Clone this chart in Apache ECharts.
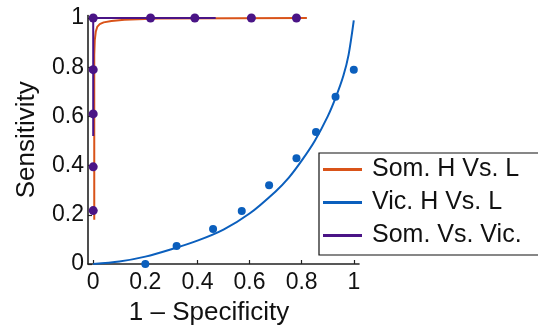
<!DOCTYPE html>
<html>
<head>
<meta charset="utf-8">
<script src="https://cdn.jsdelivr.net/npm/echarts@6/dist/echarts.min.js"></script>
<style>
  html, body { margin: 0; padding: 0; background: #fff; }
  #chart { width: 538px; height: 333px; }
</style>
</head>
<body>
<div id="chart"></div>
<script>
// tick labels
var xTicks = [0, 0.2, 0.4, 0.6, 0.8, 1]
var yTicks = [0, 0.2, 0.4, 0.6, 0.8, 1]

// Som. H Vs. L fitted curve
var somX = [0.004, 0.004, 0.006, 0.01, 0.016, 0.025, 0.04, 0.07, 0.12, 0.25, 0.82]
var somY = [0.18, 0.85, 0.91, 0.945, 0.965, 0.975, 0.982, 0.988, 0.993, 0.998, 1]

// Vic. H Vs. L fitted curve and points
var vicCurveX = [0, 0.1, 0.2, 0.3, 0.4, 0.5, 0.6, 0.7, 0.75, 0.8, 0.85, 0.9, 0.93, 0.96, 0.98, 1]
var vicCurveY = [0, 0.01, 0.03, 0.06, 0.095, 0.14, 0.205, 0.295, 0.35, 0.42, 0.5, 0.6, 0.675, 0.765, 0.85, 0.99]
var vicPtX = [0.2, 0.32, 0.46, 0.57, 0.675, 0.78, 0.855, 0.93, 1]
var vicPtY = [0, 0.073, 0.142, 0.215, 0.32, 0.43, 0.537, 0.68, 0.79]

// Som. Vs. Vic. fitted curve and points
var svX = [0, 0, 0.47]
var svY = [0.52, 1, 1]
var svPtX = [0, 0, 0, 0, 0, 0.22, 0.39, 0.607, 0.78]
var svPtY = [1, 0.79, 0.61, 0.395, 0.217, 1, 1, 1, 1]

var names = ['Som. H Vs. L', 'Vic. H Vs. L', 'Som. Vs. Vic.']
var colors = ['#d95319', '#0b5fbd', '#4a1486']

function pairs (xs, ys) {
  return xs.map(function (x, i) { return [x, ys[i]] })
}

var myChart = echarts.init(document.getElementById('chart'))

var axisText = { color: '#111', fontFamily: 'Liberation Sans', fontSize: 23 }
var axisLine = { show: true, onZero: false, lineStyle: { color: '#222', width: 1.6 } }

var option = {
  animation: false,
  backgroundColor: '#fff',
  grid: { left: 88, right: 179, top: 15.5, bottom: 69 },
  legend: {
    orient: 'vertical',
    left: 319,
    top: 153,
    padding: [4, 19, 7, 4],
    itemGap: 8,
    itemWidth: 39,
    itemHeight: 3,
    borderColor: '#111',
    borderWidth: 1.2,
    borderRadius: 0,
    textStyle: { color: '#111', fontFamily: 'Liberation Sans', fontSize: 25, lineHeight: 25, padding: [0, 0, 0, 5] },
    data: names.map(function (n) { return { name: n, icon: 'rect' } })
  },
  xAxis: {
    type: 'value',
    min: -0.02,
    max: 1.02,
    name: '1 \u2013 Specificity',
    nameLocation: 'middle',
    nameGap: 36,
    nameTextStyle: { color: '#111', fontFamily: 'Liberation Sans', fontSize: 26, padding: [0, 29, 0, 0] },
    splitLine: { show: false },
    axisLine: axisLine,
    axisTick: { show: true, inside: true, length: 4, customValues: xTicks, lineStyle: { color: '#222', width: 1.2 } },
    axisLabel: Object.assign({ margin: 7, customValues: xTicks, formatter: function (v) { return String(v) } }, axisText)
  },
  yAxis: {
    type: 'value',
    min: 0,
    max: 1.01,
    name: 'Sensitivity',
    nameLocation: 'middle',
    nameGap: 48,
    nameTextStyle: { color: '#111', fontFamily: 'Liberation Sans', fontSize: 26 },
    splitLine: { show: false },
    axisLine: axisLine,
    axisTick: { show: true, inside: true, length: 4, customValues: yTicks, lineStyle: { color: '#222', width: 1.2 } },
    axisLabel: Object.assign({ margin: 4, customValues: yTicks, formatter: function (v) { return String(v) } }, axisText)
  },
  series: [
    {
      name: names[0],
      type: 'line',
      data: pairs(somX, somY),
      showSymbol: false,
      lineStyle: { color: colors[0], width: 2 },
      itemStyle: { color: colors[0] },
      z: 2
    },
    {
      name: names[1],
      type: 'line',
      data: pairs(vicCurveX, vicCurveY),
      smooth: 0.3,
      showSymbol: false,
      lineStyle: { color: colors[1], width: 2 },
      itemStyle: { color: colors[1] },
      z: 3
    },
    {
      name: names[1],
      type: 'scatter',
      data: pairs(vicPtX, vicPtY),
      symbolSize: 8,
      itemStyle: { color: colors[1], opacity: 1 },
      z: 4
    },
    {
      name: names[2],
      type: 'line',
      data: pairs(svX, svY),
      showSymbol: false,
      lineStyle: { color: colors[2], width: 2 },
      itemStyle: { color: colors[2] },
      z: 5
    },
    {
      name: names[2],
      type: 'scatter',
      data: pairs(svPtX, svPtY),
      symbolSize: 9,
      itemStyle: { color: colors[2], opacity: 1 },
      z: 6
    }
  ]
}

myChart.setOption(option, true)
</script>
</body>
</html>
